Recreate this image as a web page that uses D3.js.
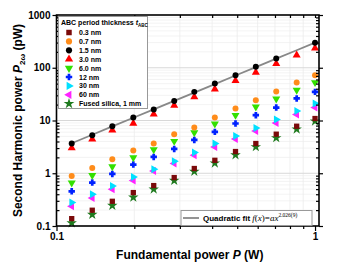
<!DOCTYPE html>
<html>
<head>
<meta charset="utf-8">
<script src="https://cdn.jsdelivr.net/npm/d3@7"></script>
<style>
  body { margin: 0; background: #fff; }
  svg { display: block; font-family: "Liberation Sans", Arial, sans-serif; }
</style>
</head>
<body>
<div id="chart"></div>
<script>
var width = 341;
var height = 270;
var plot = {left: 56.5, right: 319, top: 15, bottom: 226};

// fundamental power (W)
var powerW = [0.1145, 0.1375, 0.1644, 0.1982, 0.2377, 0.2853, 0.3412, 0.4097, 0.4925, 0.5902, 0.7079, 0.8492, 1.0];

// second harmonic power (pW) per ABC period thickness
var shg03 = [0.138, 0.199, 0.294, 0.430, 0.584, 0.829, 1.23, 1.76, 2.58, 3.66, 5.50, 7.79, 10.9];
var shg07 = [0.889, 1.26, 1.84, 2.70, 3.66, 5.50, 7.37, 11.4, 16.9, 24.3, 35.5, 52.6, 72.4];
var shg15 = [3.66, 5.26, 7.79, 11.4, 16.2, 23.5, 34.9, 50.4, 72.4, 104, 150, null, 299];
var shg30 = [3.02, 4.42, 6.55, 8.77, 13.2, 19.3, 28.0, 39.3, 56.9, 81.5, 120, 173, 236];
var shg60 = [0.655, 0.916, 1.34, 1.99, 2.82, 4.05, 5.92, 8.62, 12.6, 18.1, 25.7, 37.6, 52.6];
var shg12 = [0.455, 0.666, 0.970, 1.46, 2.04, 2.89, 4.28, 6.08, 8.77, 12.6, 17.6, 26.2, 34.9];
var shg300 = [0.278, 0.400, 0.574, 0.851, 1.19, 1.69, 2.47, 3.66, 5.10, 7.24, 10.4, 15.2, 21.0];
var shg600 = [0.237, 0.340, 0.497, 0.727, 1.105, 1.53, 2.20, 3.16, 4.48, 6.35, 9.00, 13.0, 17.6];
var shgSilica = [0.114, 0.165, 0.244, 0.350, 0.497, 0.727, 1.08, 1.55, 2.22, 3.16, 4.68, 6.84, 9.70];

var seriesLabels = ["0.3 nm", "0.7 nm", "1.5 nm", "3.0 nm", "6.0 nm", "12 nm", "30 nm", "60 nm", "Fused silica, 1 mm"];
var seriesValues = [shg03, shg07, shg15, shg30, shg60, shg12, shg300, shg600, shgSilica];
var seriesColors = ["#7a0a0a", "#ff8c1a", "#000000", "#ff0000", "#33e000", "#0022ff", "#00e0ff", "#ff22ff", "#1e7a1e"];
var seriesShapes = ["square", "circle", "circle", "up", "down", "cross", "right", "left", "star"];

// quadratic fit through the 1.5 nm points
var fitA = 299;
var fitExponent = 2.026;

var xMajor = [0.1, 1];
var yMajor = [0.1, 1, 10, 100, 1000];

// plus sign with fat arms, like the blue marker in the figure
var fatCross = {
  draw: function(context, size) {
    var r = Math.sqrt(size) / 1.7;
    var a = r * 0.42;
    context.moveTo(-r, -a);
    context.lineTo(-a, -a);
    context.lineTo(-a, -r);
    context.lineTo(a, -r);
    context.lineTo(a, -a);
    context.lineTo(r, -a);
    context.lineTo(r, a);
    context.lineTo(a, a);
    context.lineTo(a, r);
    context.lineTo(-a, r);
    context.lineTo(-a, a);
    context.lineTo(-r, a);
    context.closePath();
  }
};

function symbolPath(shape, size) {
  var types = {
    square: d3.symbolSquare, circle: d3.symbolCircle, up: d3.symbolTriangle,
    down: d3.symbolTriangle, right: d3.symbolTriangle, left: d3.symbolTriangle,
    cross: fatCross, star: d3.symbolStar
  };
  return d3.symbol().type(types[shape]).size(size)();
}

function symbolRotation(shape) {
  return {down: 180, right: 90, left: -90}[shape] || 0;
}

function createSVG() {
  return d3.select("#chart").append("svg")
    .attr("width", width)
    .attr("height", height);
}

function drawGrid(svg, x, y) {
  var minorY = y.ticks().filter(function(v) { return yMajor.indexOf(v) < 0; });
  var minorX = x.ticks().filter(function(v) { return v > 0.1 && v < 1; });
  svg.append("g").selectAll("line").data(minorY).enter().append("line")
    .attr("x1", plot.left).attr("x2", plot.right)
    .attr("y1", y).attr("y2", y)
    .attr("stroke", "#f0f0f0").attr("stroke-width", 0.8);
  svg.append("g").selectAll("line").data(minorX).enter().append("line")
    .attr("x1", x).attr("x2", x)
    .attr("y1", plot.top).attr("y2", plot.bottom)
    .attr("stroke", "#ececec").attr("stroke-width", 0.8);
  svg.append("g").selectAll("line").data([1, 10, 100]).enter().append("line")
    .attr("x1", plot.left).attr("x2", plot.right)
    .attr("y1", y).attr("y2", y)
    .attr("stroke", "#d8d8d8").attr("stroke-width", 1);
}

function drawAxes(svg, x, y) {
  var minorY = y.ticks().filter(function(v) { return yMajor.indexOf(v) < 0; });
  var minorX = x.ticks().filter(function(v) { return v > 0.1 && v < 1; });

  var axisStyle = function(g) {
    g.select(".domain").remove();
    g.selectAll("line").attr("stroke", "#000").attr("stroke-width", 1.2);
    g.selectAll("text").attr("font-size", 10).attr("font-weight", "bold").attr("fill", "#000");
  };

  // left
  svg.append("g").attr("transform", "translate(" + plot.left + ",0)")
    .call(d3.axisLeft(y).tickValues(yMajor).tickFormat(function(d, i) { return yMajor[i] < 1 ? "0.1" : d3.format("d")(d); }).tickSize(4).tickPadding(2))
    .call(axisStyle);
  svg.append("g").attr("transform", "translate(" + plot.left + ",0)")
    .call(d3.axisRight(y).tickValues(minorY).tickFormat("").tickSize(3))
    .call(axisStyle);
  // right
  svg.append("g").attr("transform", "translate(" + plot.right + ",0)")
    .call(d3.axisRight(y).tickValues(yMajor).tickFormat("").tickSize(4))
    .call(axisStyle);
  svg.append("g").attr("transform", "translate(" + plot.right + ",0)")
    .call(d3.axisLeft(y).tickValues(minorY).tickFormat("").tickSize(3))
    .call(axisStyle);
  // bottom
  svg.append("g").attr("transform", "translate(0," + plot.bottom + ")")
    .call(d3.axisBottom(x).tickValues(xMajor).tickFormat(function(d) { return d < 1 ? "0.1" : "1"; }).tickSize(5).tickPadding(2))
    .call(axisStyle);
  svg.append("g").attr("transform", "translate(0," + plot.bottom + ")")
    .call(d3.axisBottom(x).tickValues(minorX).tickFormat("").tickSize(3))
    .call(axisStyle);
  // top
  svg.append("g").attr("transform", "translate(0," + plot.top + ")")
    .call(d3.axisBottom(x).tickValues(minorX.concat(xMajor)).tickFormat("").tickSize(3))
    .call(axisStyle);

  svg.append("rect")
    .attr("x", plot.left).attr("y", plot.top)
    .attr("width", plot.right - plot.left).attr("height", plot.bottom - plot.top)
    .attr("fill", "none").attr("stroke", "#000").attr("stroke-width", 1.6);

  // axis titles
  svg.append("text")
    .attr("x", (plot.left + plot.right) / 2 + 2).attr("y", 259)
    .attr("text-anchor", "middle").attr("font-size", 12).attr("font-weight", "bold")
    .html('Fundamental power <tspan font-style="italic">P</tspan> (W)');

  svg.append("text")
    .attr("transform", "translate(22," + ((plot.top + plot.bottom) / 2) + ") rotate(-90)")
    .attr("text-anchor", "middle").attr("font-size", 12).attr("font-weight", "bold")
    .html('Second Harmonic power <tspan font-style="italic">P</tspan><tspan font-size="8" dy="3">2</tspan><tspan font-size="8" font-style="italic">ω</tspan><tspan dy="-3"> (pW)</tspan>');
}

function drawFit(svg, x, y) {
  var line = d3.line()
    .x(function(d) { return x(d); })
    .y(function(d) { return y(fitA * Math.pow(d, fitExponent)); });
  svg.append("path")
    .datum(powerW)
    .attr("d", line)
    .attr("fill", "none")
    .attr("stroke", "#888")
    .attr("stroke-width", 1.8);
}

function drawPoints(svg, x, y) {
  // draw in reverse so black/red end up on top like the reference
  for (var s = seriesValues.length - 1; s >= 0; s--) {
    var pts = powerW.map(function(p, i) { return {p: p, v: seriesValues[s][i]}; })
      .filter(function(d) { return d.v != null; });
    var shape = seriesShapes[s];
    var size = shape === "star" ? 34 : (shape === "cross" ? 30 : 28);
    svg.append("g").selectAll("path").data(pts).enter().append("path")
      .attr("d", symbolPath(shape, size))
      .attr("transform", function(d) {
        return "translate(" + x(d.p) + "," + y(d.v) + ") rotate(" + symbolRotation(shape) + ")";
      })
      .attr("fill", seriesColors[s]);
  }
}

function drawLegends(svg) {
  var lg = svg.append("g");
  lg.append("rect")
    .attr("x", 58.5).attr("y", 16.5).attr("width", 89).attr("height", 92)
    .attr("fill", "#fff").attr("stroke", "#999").attr("stroke-width", 1);
  lg.append("text")
    .attr("x", 61).attr("y", 25)
    .attr("font-size", 7).attr("font-weight", "bold")
    .html('ABC period thickness <tspan font-style="italic">t</tspan><tspan font-size="4.5" dy="1.5">ABC</tspan>');

  seriesLabels.forEach(function(label, i) {
    var cy = 32.5 + i * 8.9;
    var shape = seriesShapes[i];
    lg.append("path")
      .attr("d", symbolPath(shape, shape === "star" ? 36 : 30))
      .attr("transform", "translate(69," + cy + ") rotate(" + symbolRotation(shape) + ")")
      .attr("fill", seriesColors[i]);
    lg.append("text")
      .attr("x", 79).attr("y", cy + 2.5)
      .attr("font-size", 7).attr("font-weight", "bold")
      .text(label);
  });

  var fg = svg.append("g");
  fg.append("rect")
    .attr("x", 181).attr("y", 210.5).attr("width", 131).attr("height", 15)
    .attr("fill", "#fff").attr("stroke", "#999").attr("stroke-width", 1);
  fg.append("line")
    .attr("x1", 183).attr("x2", 199).attr("y1", 218).attr("y2", 218)
    .attr("stroke", "#888").attr("stroke-width", 1.8);
  fg.append("text")
    .attr("x", 203).attr("y", 221)
    .attr("font-size", 8).attr("font-weight", "bold")
    .html('Quadratic fit <tspan font-family="Liberation Serif, Times New Roman, serif" font-style="italic" font-weight="normal" font-size="9">f</tspan><tspan font-family="Liberation Serif, serif" font-weight="normal" font-size="9">(</tspan><tspan font-family="Liberation Serif, serif" font-style="italic" font-weight="normal" font-size="9">x</tspan><tspan font-family="Liberation Serif, serif" font-weight="normal" font-size="9">)=</tspan><tspan font-family="Liberation Serif, serif" font-style="italic" font-weight="normal" font-size="9">ax</tspan><tspan font-family="Liberation Serif, serif" font-weight="normal" font-size="5.5" dy="-4">2.026(9)</tspan>');
}

function createChart() {
  var svg = createSVG();
  var x = d3.scaleLog().domain([0.1, 1.036]).range([plot.left, plot.right]);
  var y = d3.scaleLog().domain([0.1, 1000]).range([plot.bottom, plot.top]);

  drawGrid(svg, x, y);
  drawFit(svg, x, y);
  drawPoints(svg, x, y);
  drawAxes(svg, x, y);
  drawLegends(svg);
}

window.onload = function() {
  createChart();
};
</script>
</body>
</html>
